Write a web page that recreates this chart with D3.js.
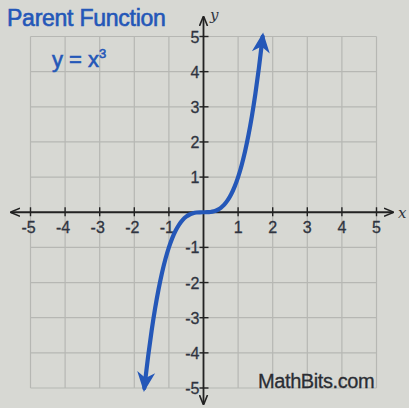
<!DOCTYPE html>
<html>
<head>
<meta charset="utf-8">
<script src="https://cdn.jsdelivr.net/npm/d3@7"></script>
<style>
  html, body { margin: 0; padding: 0; background: #d7d8d3; }
  svg { display: block; }
</style>
</head>
<body>
<svg id="chart" width="409" height="408"></svg>
<script>
// Grid ticks and labels
const xTicks = [-5, -4, -3, -2, -1, 1, 2, 3, 4, 5];
const yTicks = [-5, -4, -3, -2, -1, 1, 2, 3, 4, 5];
const gridValues = [-5, -4, -3, -2, -1, 0, 1, 2, 3, 4, 5];

// Points on y = x^3
const curveX = [-1.71, -1.6, -1.5, -1.4, -1.3, -1.2, -1.1, -1.0, -0.9, -0.8, -0.7, -0.6, -0.5, -0.4, -0.3, -0.2, -0.1, 0,
                0.1, 0.2, 0.3, 0.4, 0.5, 0.6, 0.7, 0.8, 0.9, 1.0, 1.1, 1.2, 1.3, 1.4, 1.5, 1.6, 1.71];
const curveY = [-5.0, -4.096, -3.375, -2.744, -2.197, -1.728, -1.331, -1.0, -0.729, -0.512, -0.343, -0.216, -0.125, -0.064, -0.027, -0.008, -0.001, 0,
                0.001, 0.008, 0.027, 0.064, 0.125, 0.216, 0.343, 0.512, 0.729, 1.0, 1.331, 1.728, 2.197, 2.744, 3.375, 4.096, 5.0];

const titleText = "Parent Function";
const creditText = "MathBits.com";

const svg = d3.select("#chart");
const x = d3.scaleLinear().domain([-5, 5]).range([30.5, 376.5]);
const y = d3.scaleLinear().domain([-5, 5]).range([388, 36.5]);

const blue = "#2457b8";
const axisColor = "#222";
const labelColor = "#2f3440";

// grid
const grid = svg.append("g").attr("stroke", "#b6b7b3").attr("stroke-width", 1.2);
grid.selectAll("line.v").data(gridValues).join("line")
  .attr("x1", d => x(d)).attr("x2", d => x(d))
  .attr("y1", y(5)).attr("y2", y(-5));
grid.selectAll("line.h").data(gridValues).join("line")
  .attr("y1", d => y(d)).attr("y2", d => y(d))
  .attr("x1", x(-5)).attr("x2", x(5));

// arrow markers
const defs = svg.append("defs");
defs.append("marker").attr("id", "axArrow")
  .attr("viewBox", "0 0 10 10").attr("refX", 9).attr("refY", 5)
  .attr("markerWidth", 10).attr("markerHeight", 10).attr("markerUnits", "userSpaceOnUse")
  .attr("orient", "auto-start-reverse")
  .append("path").attr("d", "M0,1 L10,5 L0,9").attr("fill", "none")
  .attr("stroke", axisColor).attr("stroke-width", 1.6);
defs.append("marker").attr("id", "curveArrow")
  .attr("viewBox", "0 0 10 10").attr("refX", 8).attr("refY", 5)
  .attr("markerWidth", 22).attr("markerHeight", 20).attr("markerUnits", "userSpaceOnUse")
  .attr("orient", "auto-start-reverse")
  .append("path").attr("d", "M0,0.5 L10,5 L0,9.5 L3,5 Z").attr("fill", blue);

// axes lines with arrowheads
svg.append("line")
  .attr("x1", 11).attr("x2", 393).attr("y1", y(0)).attr("y2", y(0))
  .attr("stroke", axisColor).attr("stroke-width", 1.8)
  .attr("marker-start", "url(#axArrow)").attr("marker-end", "url(#axArrow)");
svg.append("line")
  .attr("x1", x(0)).attr("x2", x(0)).attr("y1", 17).attr("y2", 404)
  .attr("stroke", axisColor).attr("stroke-width", 1.8)
  .attr("marker-start", "url(#axArrow)").attr("marker-end", "url(#axArrow)");

// tick marks
const ticks = svg.append("g").attr("stroke", axisColor).attr("stroke-width", 1.4);
ticks.selectAll("line.xt").data(xTicks).join("line")
  .attr("x1", d => x(d)).attr("x2", d => x(d))
  .attr("y1", y(0) - 5).attr("y2", y(0) + 4);
ticks.selectAll("line.yt").data(yTicks).join("line")
  .attr("y1", d => y(d)).attr("y2", d => y(d))
  .attr("x1", x(0) - 4).attr("x2", x(0) + 5);

// tick labels
const fmt = d => (d < 0 ? "-" + Math.abs(d) : String(d));
svg.append("g").selectAll("text").data(xTicks).join("text")
  .attr("x", d => x(d) + (d < 0 ? -2 : 0)).attr("y", y(0) + 21)
  .attr("text-anchor", "middle")
  .attr("font-family", "Liberation Sans, Arial, sans-serif").attr("font-size", 16)
  .attr("fill", labelColor).attr("stroke", labelColor).attr("stroke-width", 0.3)
  .text(fmt);
svg.append("g").selectAll("text").data(yTicks).join("text")
  .attr("x", x(0) - 4).attr("y", d => y(d) + 6)
  .attr("text-anchor", "end")
  .attr("font-family", "Liberation Sans, Arial, sans-serif").attr("font-size", 16)
  .attr("fill", labelColor).attr("stroke", labelColor).attr("stroke-width", 0.3)
  .text(fmt);

// axis names
svg.append("text").attr("x", 210).attr("y", 20)
  .attr("font-family", "DejaVu Serif, serif").attr("font-style", "italic").attr("font-size", 15)
  .attr("fill", labelColor).text("y");
svg.append("text").attr("x", 398).attr("y", 218)
  .attr("font-family", "DejaVu Serif, serif").attr("font-style", "italic").attr("font-size", 15)
  .attr("fill", labelColor).text("x");

// the cubic curve
const pts = curveX.map((d, i) => [d, curveY[i]]);
svg.append("path")
  .datum(pts)
  .attr("d", d3.line().x(d => x(d[0])).y(d => y(d[1])).curve(d3.curveCatmullRom))
  .attr("fill", "none").attr("stroke", blue).attr("stroke-width", 4.2)
  .attr("stroke-linecap", "round")
  .attr("marker-start", "url(#curveArrow)").attr("marker-end", "url(#curveArrow)");

// title and equation
svg.append("text").attr("x", 7).attr("y", 26)
  .attr("font-family", "Liberation Sans, Arial, sans-serif").attr("font-size", 23)
  .attr("letter-spacing", -0.25)
  .attr("fill", blue).attr("stroke", blue).attr("stroke-width", 0.6)
  .text(titleText);
const eq = svg.append("text").attr("x", 52).attr("y", 67)
  .attr("font-family", "Liberation Sans, Arial, sans-serif").attr("font-size", 22)
  .attr("fill", blue).attr("stroke", blue).attr("stroke-width", 0.6);
eq.append("tspan").text("y = x");
eq.append("tspan").attr("font-size", 13).attr("dy", -9).text("3");

// credit
svg.append("text").attr("x", 258).attr("y", 388)
  .attr("font-family", "Liberation Sans, Arial, sans-serif").attr("font-size", 20)
  .attr("letter-spacing", -0.4)
  .attr("fill", "#2a2d33").attr("stroke", "#2a2d33").attr("stroke-width", 0.3)
  .text(creditText);
</script>
</body>
</html>
